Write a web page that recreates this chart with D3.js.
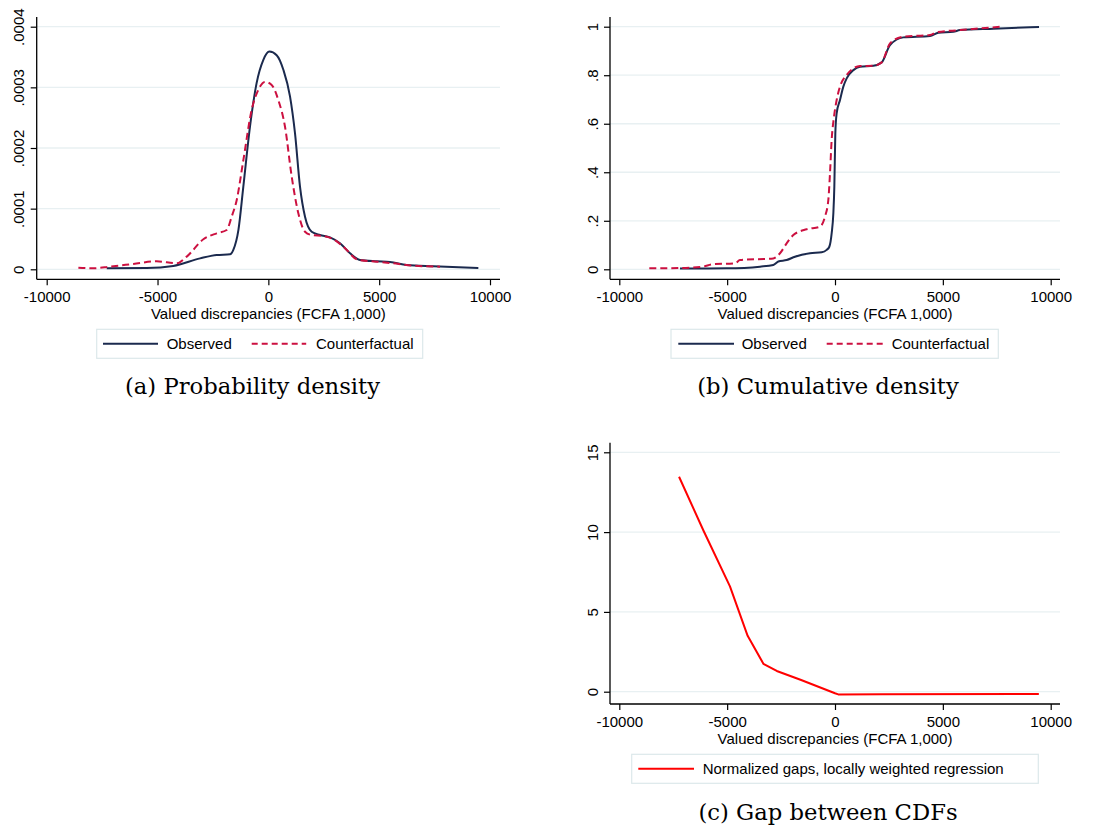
<!DOCTYPE html>
<html><head><meta charset="utf-8">
<script src="https://cdn.jsdelivr.net/npm/d3@7"></script>
<style>
body{margin:0;background:#fff;}
svg{display:block;}
text{font-family:"Liberation Sans",Arial,sans-serif;fill:#000;}
.tickl{font-family:"Liberation Sans",Arial,sans-serif;font-size:15px;fill:#000;}
.cap{font-family:"DejaVu Serif","Liberation Serif",serif;font-size:22.7px;}
</style></head>
<body>
<svg id="c" width="1098" height="831"></svg>
<script>
// ---------- data ----------
const xTicks = [-10000, -5000, 0, 5000, 10000];
const xTickLabels = ["-10000", "-5000", "0", "5000", "10000"];
const yTicksPdf = [0, 0.0001, 0.0002, 0.0003, 0.0004];
const yLabelsPdf = ["0", ".0001", ".0002", ".0003", ".0004"];
const yTicksCdf = [0, 0.2, 0.4, 0.6, 0.8, 1];
const yLabelsCdf = ["0", ".2", ".4", ".6", ".8", "1"];
const yTicksGap = [0, 5, 10, 15];
const yLabelsGap = ["0", "5", "10", "15"];
const xTitle = "Valued discrepancies (FCFA 1,000)";
const seriesNames = ["Observed", "Counterfactual"];
const gapName = "Normalized gaps, locally weighted regression";
const captions = ["(a) Probability density", "(b) Cumulative density", "(c) Gap between CDFs"];

const pdfObserved = [[-7290,0.0000016],[-5490,0.0000020],[-4290,0.0000055],[-3080,0.000018],[-2330,0.0000236],[-1730,0.0000247],[-1580,0.000032],[-1350,0.000065],[-1130,0.000136],[-830,0.000235],[-530,0.000307],[-230,0.000345],[45,0.000359],[376,0.000353],[677,0.000329],[977,0.000285],[1203,0.000224],[1429,0.000136],[1654,0.0000868],[1955,0.000062],[2331,0.0000566],[2782,0.0000527],[3233,0.0000429],[3684,0.0000264],[4135,0.0000154],[4887,0.0000132],[5489,0.0000121],[6241,0.0000071],[7444,0.0000049],[9474,0.0000022]];
const pdfCounterfactual = [[-8571,0.0000027],[-7895,0.0000016],[-7143,0.0000044],[-6090,0.0000088],[-5038,0.0000132],[-4135,0.0000099],[-3684,0.0000209],[-2932,0.0000495],[-2331,0.0000593],[-1880,0.0000648],[-1654,0.0000868],[-1429,0.000114],[-1128,0.00018],[-752,0.000263],[-451,0.000296],[-150,0.000309],[150,0.000304],[451,0.000279],[752,0.000235],[1053,0.000153],[1353,0.0000923],[1654,0.000062],[1955,0.0000566],[2481,0.000055],[2932,0.0000495],[3383,0.0000374],[4060,0.0000154],[4887,0.0000126],[5639,0.0000099],[6541,0.000006],[7744,0.0000044]];

const cdfObserved = [[-7187,0.003],[-5023,0.004],[-3478,0.011],[-2860,0.018],[-2628,0.032],[-2241,0.038],[-1855,0.052],[-1159,0.066],[-618,0.07],[-386,0.08],[-263,0.093],[-155,0.148],[-77,0.23],[-31,0.34],[15,0.56],[77,0.643],[232,0.698],[386,0.753],[541,0.787],[850,0.821],[1159,0.835],[1777,0.839],[2164,0.853],[2550,0.924],[3168,0.956],[4405,0.962],[4791,0.975],[5487,0.979],[5796,0.986],[7341,0.992],[9459,0.999]];
const cdfCounterfactual = [[-8609,0.004],[-7218,0.005],[-6136,0.011],[-5672,0.021],[-4637,0.025],[-4405,0.038],[-2860,0.045],[-2550,0.066],[-2241,0.107],[-1932,0.141],[-1314,0.165],[-696,0.176],[-464,0.217],[-309,0.286],[-232,0.396],[-155,0.533],[-46,0.629],[77,0.698],[232,0.753],[541,0.801],[850,0.828],[1159,0.838],[1777,0.839],[2164,0.853],[2550,0.931],[3168,0.959],[4405,0.966],[4714,0.977],[5796,0.986],[7728,1.0]];

const gapLowess = [[-7230,13.47],[-6100,10.1],[-4870,6.6],[-4050,3.5],[-3320,1.75],[-2700,1.3],[-1600,0.75],[0,-0.1],[150,-0.17],[2200,-0.16],[9450,-0.15]];

// ---------- styles ----------
const NAVY = "#1b2a4e", CRAN = "#cc1040", RED = "#ff0000", GRID = "#e8f0f2", BOX = "#dce8ea";

const svg = d3.select("#c");

function panel(cfg) {
  const g = svg.append("g");
  const x = d3.scaleLinear().domain([-10000, 10000]).range(cfg.xr);
  const y = d3.scaleLinear().domain(cfg.yd).range(cfg.yr);
  // gridlines
  g.selectAll("line.grid").data(cfg.yTicks).join("line")
    .attr("x1", cfg.axX).attr("x2", cfg.right)
    .attr("y1", d => y(d)).attr("y2", d => y(d))
    .attr("stroke", GRID).attr("stroke-width", 1.3);
  // axes
  const ax = g.append("g").attr("transform", `translate(0,${cfg.axY})`)
    .call(d3.axisBottom(x).tickValues(xTicks).tickSize(6).tickPadding(6).tickFormat((d, i) => xTickLabels[i]));
  ax.attr("font-size", null).attr("font-family", null);
  ax.select(".domain").remove();
  ax.selectAll(".tick line").attr("stroke", "#000").attr("stroke-width", 1.2);
  ax.selectAll(".tick text").attr("class", "tickl").attr("fill", "#000");
  const ay = g.append("g").attr("transform", `translate(${cfg.axX},0)`)
    .call(d3.axisLeft(y).tickValues(cfg.yTicks).tickSize(6).tickFormat((d, i) => cfg.yLabels[i]));
  ay.attr("font-size", null).attr("font-family", null);
  ay.select(".domain").remove();
  ay.selectAll(".tick line").attr("stroke", "#000").attr("stroke-width", 1.2);
  ay.selectAll(".tick text").attr("class", "tickl").attr("fill", "#000")
    .attr("x", null).attr("dy", null).attr("text-anchor", "middle")
    .attr("transform", "translate(-12.5,0) rotate(-90)");
  g.append("line").attr("x1", cfg.axX).attr("x2", cfg.axX).attr("y1", cfg.top).attr("y2", cfg.axY).attr("stroke", "#000").attr("stroke-width", 1.3);
  g.append("line").attr("x1", cfg.axX).attr("x2", cfg.right).attr("y1", cfg.axY).attr("y2", cfg.axY).attr("stroke", "#000").attr("stroke-width", 1.3);
  // x title
  g.append("text").attr("x", x(0)).attr("y", cfg.axY + 40).attr("text-anchor", "middle").style("font-size", "15px").text(xTitle);
  // series
  cfg.series.forEach(s => {
    g.append("path").datum(s.data)
      .attr("d", d3.line().x(d => x(d[0])).y(d => y(d[1])).curve(s.curve))
      .attr("fill", "none").attr("stroke", s.color).attr("stroke-width", 2)
      .attr("stroke-dasharray", s.dash || null).attr("stroke-linejoin", "round");
  });
  // legend
  const L = cfg.legend;
  g.append("rect").attr("x", L.x).attr("y", L.y).attr("width", L.w).attr("height", L.h)
    .attr("fill", "#fff").attr("stroke", BOX).attr("stroke-width", 1.2);
  L.items.forEach(it => {
    g.append("line").attr("x1", it.lx).attr("x2", it.lx + it.lw).attr("y1", L.y + L.h / 2).attr("y2", L.y + L.h / 2)
      .attr("stroke", it.color).attr("stroke-width", 2).attr("stroke-dasharray", it.dash || null);
    g.append("text").attr("x", it.tx).attr("y", L.y + L.h / 2 + 5.5).style("font-size", "15px").text(it.label);
  });
  // caption
  g.append("text").attr("class", "cap").attr("x", cfg.capX).attr("y", cfg.capY).attr("text-anchor", "middle").text(cfg.caption);
}

panel({
  xr: [46.7, 490], yd: [0, 0.0004], yr: [269.3, 26.7], axX: 36.7, axY: 279.3, top: 17, right: 500,
  yTicks: yTicksPdf, yLabels: yLabelsPdf,
  series: [
    {data: pdfObserved, color: NAVY, curve: d3.curveMonotoneX},
    {data: pdfCounterfactual, color: CRAN, curve: d3.curveMonotoneX, dash: "7,4"}
  ],
  legend: {x: 96.7, y: 329.3, w: 326, h: 29, items: [
    {lx: 103, lw: 55, tx: 166.7, color: NAVY, label: seriesNames[0]},
    {lx: 251.7, lw: 54.5, tx: 316, color: CRAN, dash: "6,4", label: seriesNames[1]}
  ]},
  caption: captions[0], capX: 252.5, capY: 394
});

panel({
  xr: [619.3, 1050.7], yd: [0, 1], yr: [269.3, 26.7], axX: 610, axY: 279.3, top: 17, right: 1060,
  yTicks: yTicksCdf, yLabels: yLabelsCdf,
  series: [
    {data: cdfObserved, color: NAVY, curve: d3.curveMonotoneX},
    {data: cdfCounterfactual, color: CRAN, curve: d3.curveMonotoneX, dash: "7,4"}
  ],
  legend: {x: 671, y: 329.3, w: 327.3, h: 29, items: [
    {lx: 678.3, lw: 55.7, tx: 741.7, color: NAVY, label: seriesNames[0]},
    {lx: 826.7, lw: 56.6, tx: 891.7, color: CRAN, dash: "6,4", label: seriesNames[1]}
  ]},
  caption: captions[1], capX: 828, capY: 394
});

panel({
  xr: [619.3, 1050.7], yd: [0, 15], yr: [691.7, 452.3], axX: 610, axY: 704, top: 442.7, right: 1060,
  yTicks: yTicksGap, yLabels: yLabelsGap,
  series: [
    {data: gapLowess, color: RED, curve: d3.curveLinear}
  ],
  legend: {x: 631.7, y: 754.3, w: 406.6, h: 29, items: [
    {lx: 638.3, lw: 55.7, tx: 702.7, color: RED, label: gapName}
  ]},
  caption: captions[2], capX: 828, capY: 820
});
</script>
</body></html>
